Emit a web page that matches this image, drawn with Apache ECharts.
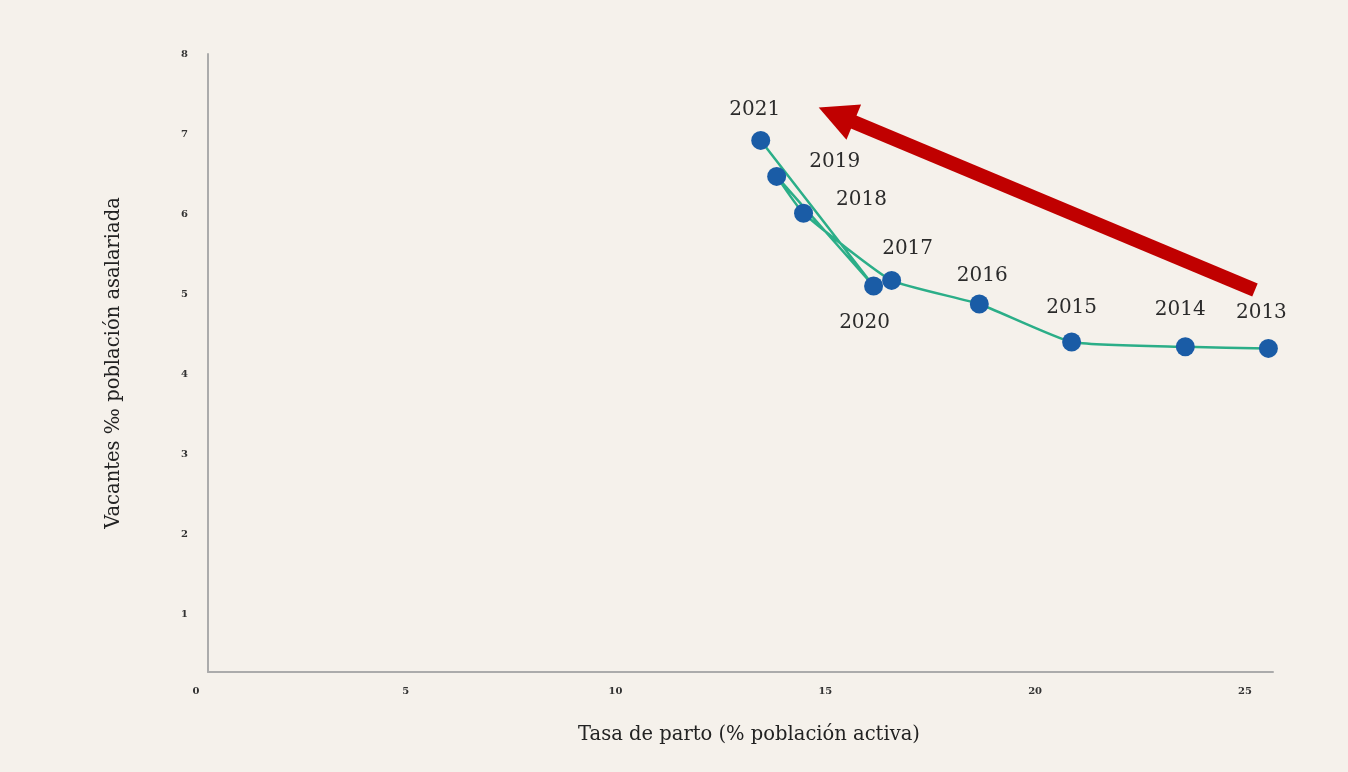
<!DOCTYPE html>
<html>
<head>
<meta charset="utf-8">
<script src="https://cdn.jsdelivr.net/npm/echarts@6/dist/echarts.min.js"></script>
<style>
  html, body { margin: 0; padding: 0; background: #F5F1EB; }
  #chart { width: 1348px; height: 772px; }
</style>
</head>
<body>
<div id="chart"></div>
<script>
// ---- data ----
const years = ['2013', '2014', '2015', '2016', '2017', '2018', '2019', '2020', '2021'];
const tasaParo = [25.56, 23.58, 20.87, 18.67, 16.58, 14.48, 13.84, 16.15, 13.46];
const vacantes = [4.32, 4.34, 4.40, 4.875, 5.17, 6.01, 6.47, 5.10, 6.92];
const xTicks = [0, 5, 10, 15, 20, 25];
const yTicks = [1, 2, 3, 4, 5, 6, 7, 8];
// arrow annotation, in data units: from (tasa, vacantes) to (tasa, vacantes)
const arrowFrom = [25.24, 5.05];
const arrowTo = [15.26, 7.24];

// ---- label placement (style only) ----
const labelOffsets = {
  '2013': [-7, -36], '2014': [-5, -37], '2015': [0, -34], '2016': [3, -28],
  '2017': [16, -32], '2018': [58, -13], '2019': [58, -15], '2020': [-9, 37],
  '2021': [-6, -31]
};

const serif = "'DejaVu Serif', 'Liberation Serif', serif";

const points = years.map((y, i) => ({
  value: [tasaParo[i], vacantes[i]],
  name: y,
  label: { offset: labelOffsets[y] }
}));

const chart = echarts.init(document.getElementById('chart'), null, { renderer: 'canvas' });
chart.setOption({
  backgroundColor: '#F5F1EB',
  animation: false,
  grid: [
    { left: 196, top: 54, right: 75, bottom: 78 },
    { left: 208, top: 54, width: 1065, height: 618 }
  ],
  xAxis: [
    {
      type: 'value', gridIndex: 0, min: 0, max: 25.67, interval: 5,
      axisLine: { show: false }, axisTick: { show: false }, splitLine: { show: false },
      axisLabel: {
        margin: -8, color: '#333', fontFamily: serif, fontSize: 10, fontWeight: 'bold',
        customValues: xTicks
      }
    },
    {
      type: 'value', gridIndex: 1, min: 0, max: 1,
      axisLine: { show: true, onZero: false, lineStyle: { color: '#ABABAB', width: 2 } },
      axisTick: { show: false }, axisLabel: { show: false }, splitLine: { show: false },
      name: 'Tasa de parto (% población activa)',
      nameLocation: 'middle', nameGap: 53,
      nameTextStyle: { color: '#222', fontFamily: serif, fontSize: 19.5, padding: [0, 0, 0, 17] }
    }
  ],
  yAxis: [
    {
      type: 'value', gridIndex: 0, min: 0, max: 8, interval: 1,
      axisLine: { show: false }, axisTick: { show: false }, splitLine: { show: false },
      axisLabel: {
        margin: 8, color: '#333', fontFamily: serif, fontSize: 10, fontWeight: 'bold',
        customValues: yTicks
      }
    },
    {
      type: 'value', gridIndex: 1, min: 0, max: 1,
      axisLine: { show: true, onZero: false, lineStyle: { color: '#ABABAB', width: 2 } },
      axisTick: { show: false }, axisLabel: { show: false }, splitLine: { show: false },
      name: 'Vacantes ‰ población asalariada',
      nameLocation: 'middle', nameGap: 84,
      nameTextStyle: { color: '#222', fontFamily: serif, fontSize: 19.5, padding: [0, 0, 0, 0] }
    }
  ],
  series: [
    {
      type: 'line',
      xAxisIndex: 0, yAxisIndex: 0,
      data: points,
      smooth: 0.15,
      symbol: 'circle',
      symbolSize: 19,
      itemStyle: { color: '#1A5CA6' },
      lineStyle: { color: '#2BAE88', width: 2.5 },
      label: {
        show: true,
        position: 'inside',
        formatter: p => p.name,
        color: '#2b2b2b',
        fontFamily: serif,
        fontSize: 20
      },
      emphasis: { disabled: true },
      markLine: {
        silent: true,
        symbol: ['none', 'triangle'],
        symbolSize: [38, 38],
        label: { show: false },
        lineStyle: { color: '#C00000', width: 14, type: 'solid' },
        data: [[{ coord: arrowFrom }, { coord: arrowTo }]]
      },
      z: 3
    }
  ]
});
</script>
</body>
</html>
